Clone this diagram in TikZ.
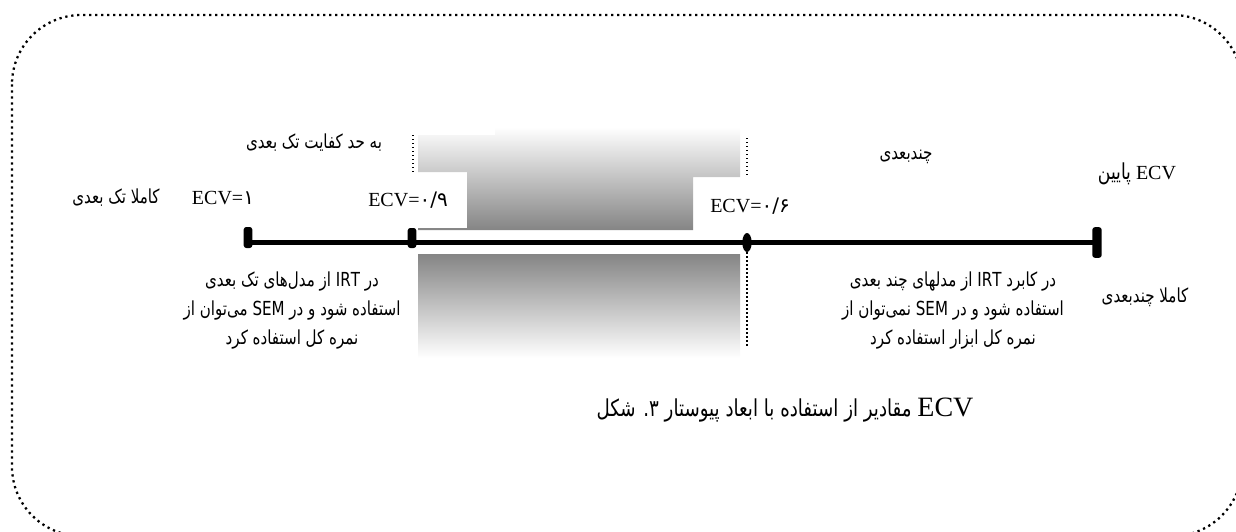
\documentclass[tikz,border=0pt]{standalone}
\usepackage{fontspec}
\setmainfont{Liberation Serif}
\newfontfamily\fa[Script=Arabic,FakeStretch=0.78]{DejaVu Sans}
\newfontfamily\fad[Script=Arabic]{DejaVu Sans}
\TeXXeTstate=1
\usetikzlibrary{shapes.geometric}
\begin{document}
\begin{tikzpicture}[x=0.75pt,y=-0.75pt,
  frame/.style={line width=1.7pt, dash pattern=on 1.7pt off 2.8pt, rounded corners=52pt},
  vdots/.style={line width=1.2pt, dash pattern=on 1.1pt off 1.9pt},
  axis/.style={line width=4pt},
  tickbox/.style={fill=black, inner sep=0pt, rounded corners=2pt, minimum width=6.5pt},
  ecv/.style={font=\fontsize{15}{18}\selectfont, inner sep=0pt},
  fatext/.style={font=\fa\fontsize{14.5}{17}\selectfont, inner sep=0pt},
  para/.style={font=\fa\fontsize{14.5}{21.75}\selectfont, align=center, inner sep=0pt},
  captext/.style={font=\fa\fontsize{17.5}{22}\selectfont, inner sep=0pt}
]
\useasboundingbox (0,0) rectangle (1236,532);
\clip (0,0) rectangle (1236,532);
\draw[frame] (12,15) rectangle (1242,536);

% gradients
\shade[top color=white, bottom color=black!48]
  (418,135) -- (495,135) -- (495,127) -- (740,127) -- (740,177) -- (693,177)
  -- (693,230) -- (418,230) -- (418,228) -- (467,228) -- (467,172) -- (418,172) -- cycle;
\shade[top color=black!48, bottom color=white] (418,254) rectangle (740,358);

% ticks and axis
\node[tickbox, minimum height=15.75pt] (t1) at (248,237.5) {};
\node[tickbox, minimum height=15pt] (t2) at (412,238) {};
\node[ellipse, fill=black, inner sep=0pt, minimum width=7pt, minimum height=14.25pt] (t3) at (747,242.5) {};
\node[tickbox, minimum width=7pt, minimum height=23pt] (t4) at (1097,242.5) {};
\draw[axis] (t1.south |- t4.center) -- (t4.center);

% dotted guides
\coordinate (d1a) at (413,135); \coordinate (d1b) at (413,172);
\draw[vdots] (d1a) -- (d1b);
\coordinate (d2a) at (747,138); \coordinate (d2b) at (747,175);
\draw[vdots] (d2a) -- (d2b);
\coordinate (d3) at (747,348);
\draw[vdots] (t3.south) -- (d3);

% labels
\node[fatext] (l1) at (314,143) {\beginR به حد کفایت تک بعدی\endR};
\node[fatext] (l2) at (116,198) {\beginR کاملا تک بعدی\endR};
\node[ecv] (e1) at (223,198) {ECV={\fad ۱}};
\node[ecv] (e2) at (408,200) {ECV={\fad ۰/۹}};
\node[ecv] (e3) at (750,206) {ECV={\fad ۰/۶}};
\node[fatext] (l3) at (906,157) {\beginR چندبعدی\endR};
\node[ecv] (e4) at (1137,174) {\beginR ECV {\fa\fontsize{16.5}{17}\selectfont پایین}\endR};
\node[fatext] (l4) at (1145,297) {\beginR کاملا چندبعدی\endR};
\node[para] (p1) at (292,311) {\beginR در IRT از مدل‌های تک بعدی\endR\\ \beginR استفاده شود و در SEM می‌توان از\endR\\ \beginR نمره کل استفاده کرد\endR};
\node[para] (p2) at (953,311) {\beginR در کابرد IRT از مدلهای چند بعدی\endR\\ \beginR استفاده شود و در SEM نمی‌توان از\endR\\ \beginR نمره کل ابزار استفاده کرد\endR};
\node[captext] (cap) at (785,410) {\beginR{\rmfamily\fontsize{21}{24}\selectfont ECV} مقادیر از استفاده با ابعاد پیوستار ۳. شکل\endR};
\end{tikzpicture}
\end{document}
